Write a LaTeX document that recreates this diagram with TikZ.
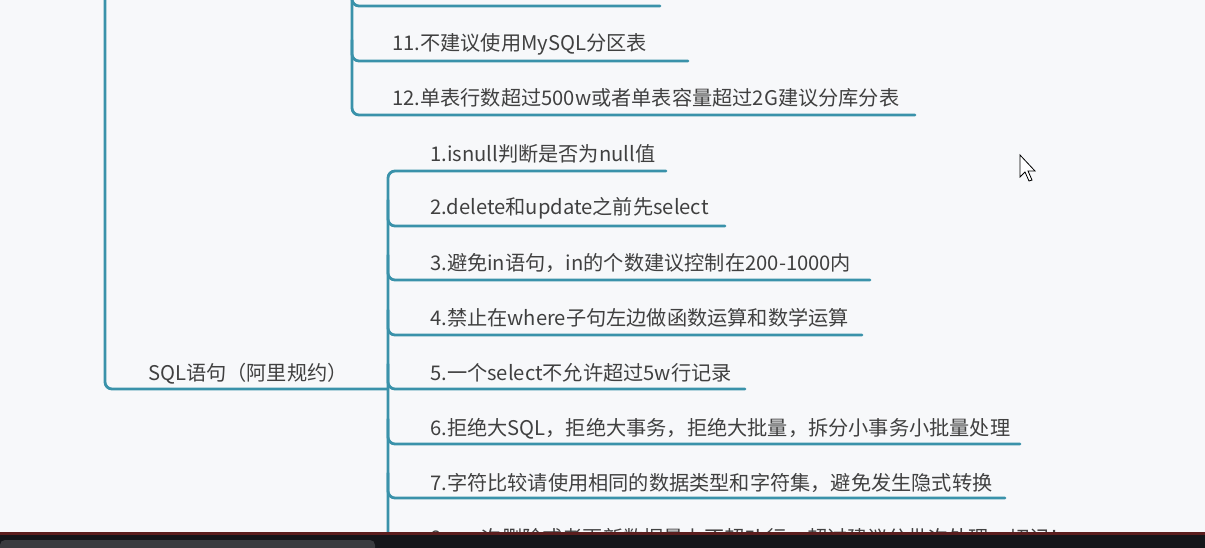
\documentclass[tikz,border=0pt]{standalone}
\usepackage{fontspec}
\setmainfont{Noto Sans CJK SC}
\definecolor{bgc}{RGB}{247,248,250}
\definecolor{branchc}{RGB}{58,146,170}
\definecolor{txtc}{RGB}{64,64,64}
\definecolor{barc}{RGB}{21,22,26}
\definecolor{barline}{RGB}{92,30,30}
\definecolor{tabc}{RGB}{58,59,63}
\tikzset{
  branch/.style={draw=branchc, line width=2.8pt, rounded corners=7pt, line cap=round},
  item/.style={anchor=base west, inner sep=0pt, text=txtc, font=\fontsize{20.2pt}{23pt}\selectfont},
}
\begin{document}
\begin{tikzpicture}[x=1pt,y=-1pt]
\fill[bgc] (0,0) rectangle (1205,548);
\useasboundingbox (0,0) rectangle (1205,548);

% ---- upper group (children of previous topic) ----
\coordinate (uTop) at (352,-10);
\coordinate (e10) at (660,6);
\coordinate (e11) at (688,61);
\coordinate (e12) at (915,115);
\node[item] (n11) at (392,51) {11.不建议使用MySQL分区表};
\node[item] (n12) at (392,106) {12.单表行数超过500w或者单表容量超过2G建议分库分表};
\draw[branch] (uTop) -- (352,115) -- (e12);
\draw[branch] (352,-14) -- (352,6) -- (e10);
\draw[branch] (352,40) -- (352,61) -- (e11);

% ---- main branch ----
\coordinate (mTop) at (105,-10);
\coordinate (sqlEnd) at (388,389);
\node[item] (sql) at (148,380) {SQL语句（阿里规约）};
\draw[branch] (mTop) -- (105,389) -- (sqlEnd);

% ---- SQL children ----
\coordinate (vBot) at (388,545);
\node[item] (c1) at (430,162) {1.isnull判断是否为null值};
\node[item] (c2) at (430,215) {2.delete和update之前先select};
\node[item] (c3) at (430,270) {3.避免in语句，in的个数建议控制在200-1000内};
\node[item] (c4) at (430,325) {4.禁止在where子句左边做函数运算和数学运算};
\node[item] (c5) at (430,380) {5.一个select不允许超过5w行记录};
\node[item] (c6) at (430,435) {6.拒绝大SQL，拒绝大事务，拒绝大批量，拆分小事务小批量处理};
\node[item] (c7) at (430,490) {7.字符比较请使用相同的数据类型和字符集，避免发生隐式转换};
\begin{scope}
\clip (0,0) rectangle (1205,533);
\node[item] (c8) at (430,545) {8、一次删除或者更新数据量上不超5k行，超过建议分批次处理，切记！};
\end{scope}
\coordinate (e1) at (666,171);
\coordinate (e2) at (725,226);
\coordinate (e3) at (870,280);
\coordinate (e4) at (862,335);
\coordinate (e5) at (745,389);
\coordinate (e6) at (1020,444);
\coordinate (e7) at (1005,498);
\draw[branch] (vBot) -- (388,171) -- (e1);
\draw[branch] (388,200) -- (388,226) -- (e2);
\draw[branch] (388,255) -- (388,280) -- (e3);
\draw[branch] (388,310) -- (388,335) -- (e4);
\draw[branch] (388,364) -- (388,389) -- (e5);
\draw[branch] (388,419) -- (388,444) -- (e6);
\draw[branch] (388,473) -- (388,498) -- (e7);

% ---- mouse cursor ----
\draw[black, fill=white, line width=0.8pt, line join=miter]
  (1020,155) -- (1020,177) -- (1025,172) -- (1029,181) -- (1032,180) -- (1028,171) -- (1035,171) -- cycle;

% ---- bottom task bar ----
\fill[barc] (0,533) rectangle (1205,548);
\fill[barline] (0,532) rectangle (1205,535);
\fill[tabc, rounded corners=5pt] (0,540) rectangle (375,560);
\end{tikzpicture}
\end{document}
